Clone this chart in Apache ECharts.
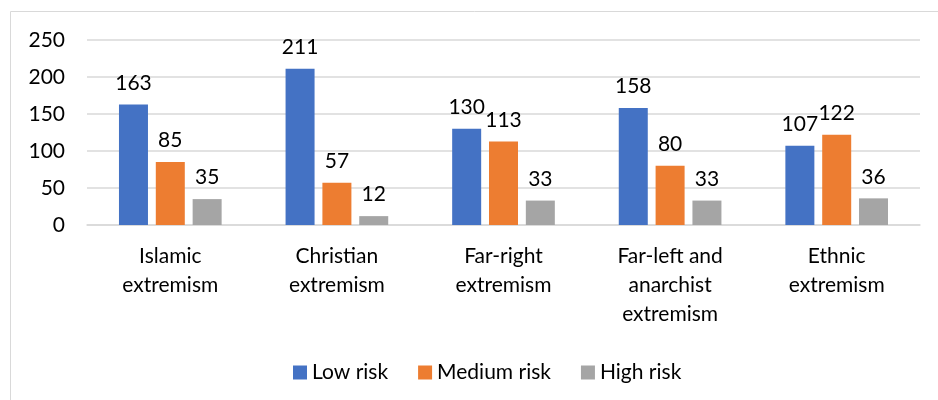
<!DOCTYPE html>
<html><head><meta charset="utf-8">
<script src="https://cdn.jsdelivr.net/npm/echarts@6/dist/echarts.min.js"></script>
<style>html,body{margin:0;padding:0;background:#fff}#c{width:938px;height:400px}</style>
</head><body><div id="c"></div>
<script>
const categories = ["Islamic\nextremism", "Christian\nextremism", "Far-right\nextremism", "Far-left and\nanarchist\nextremism", "Ethnic\nextremism"];
const lowRisk = [163, 211, 130, 158, 107];
const mediumRisk = [85, 57, 113, 80, 122];
const highRisk = [35, 12, 33, 33, 36];
const yTicks = [0, 50, 100, 150, 200, 250];

const FONT = 'Lato';
const FS = 21;
const chart = echarts.init(document.getElementById('c'));
const lbl = {show: true, position: 'top', distance: 11, color: '#000', fontFamily: FONT, fontSize: FS};
chart.setOption({
  animation: false,
  textStyle: {fontFamily: FONT},
  graphic: [{type: 'rect', shape: {x: 10.5, y: 11.5, width: 940, height: 400}, style: {fill: 'none', stroke: '#d9d9d9', lineWidth: 1}}],
  grid: {left: 87, right: 18, top: 40, bottom: 175},
  legend: {top: 357, left: 288, itemWidth: 14, itemHeight: 14, itemGap: 30, icon: 'rect',
    textStyle: {fontFamily: FONT, fontSize: FS, color: '#000'},
    data: ['Low risk', 'Medium risk', 'High risk']},
  xAxis: {type: 'category', data: categories,
    axisLine: {lineStyle: {color: '#d9d9d9', width: 1.5}}, axisTick: {show: false},
    axisLabel: {color: '#000', fontFamily: FONT, fontSize: FS, lineHeight: 29, margin: 17}},
  yAxis: {type: 'value', min: yTicks[0], max: yTicks[yTicks.length-1], interval: 50,
    axisLine: {show: false}, axisTick: {show: false},
    splitLine: {lineStyle: {color: '#d9d9d9', width: 1.5}},
    axisLabel: {color: '#000', fontFamily: FONT, fontSize: FS, margin: 22}},
  series: [
    {name: 'Low risk', type: 'bar', data: lowRisk, barWidth: 29, barGap: '27%', itemStyle: {color: '#4472C4'}, label: lbl},
    {name: 'Medium risk', type: 'bar', data: mediumRisk, barWidth: 29, barGap: '27%', itemStyle: {color: '#ED7D31'}, label: lbl},
    {name: 'High risk', type: 'bar', data: highRisk, barWidth: 29, barGap: '27%', itemStyle: {color: '#A5A5A5'}, label: lbl}
  ]
});
</script></body></html>
